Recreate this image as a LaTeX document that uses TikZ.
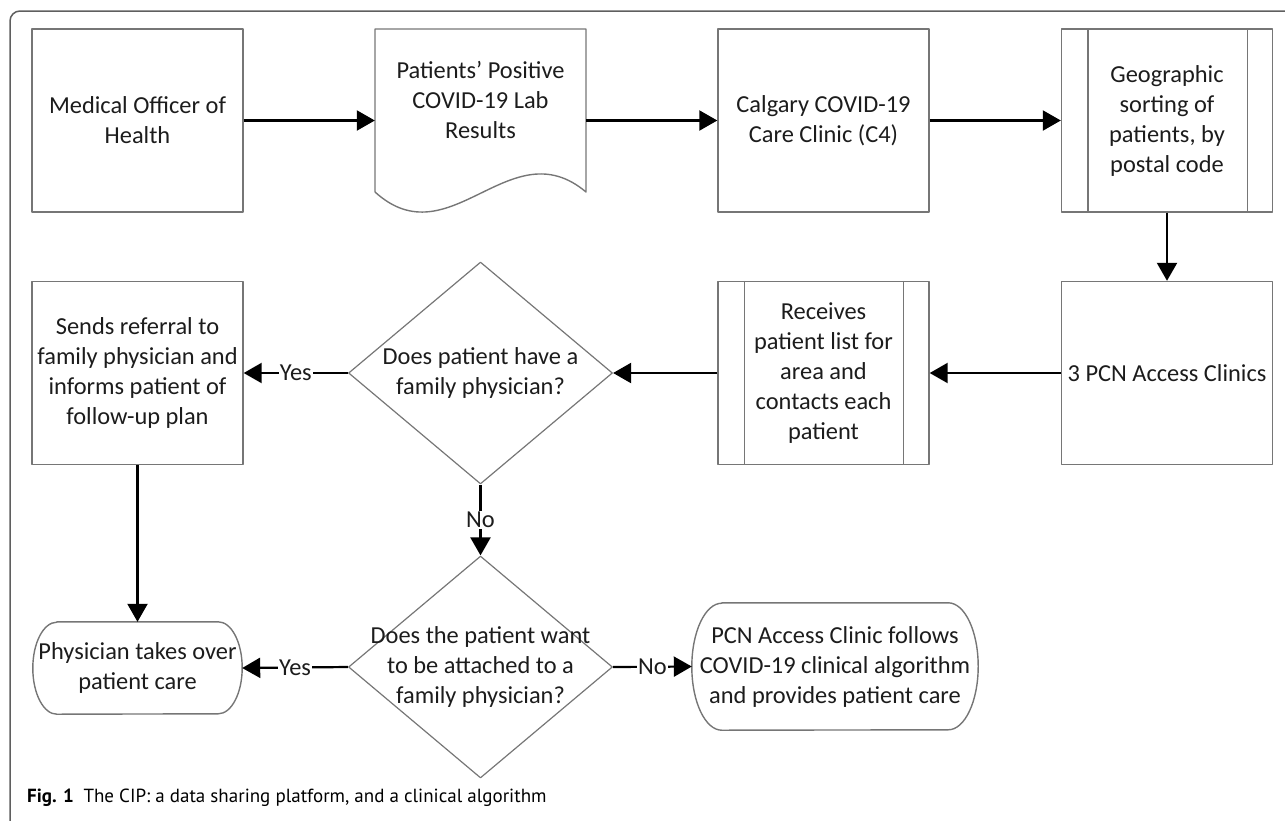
\documentclass[tikz,border=0pt]{standalone}
\usepackage{fontspec}
\setmainfont{Carlito}
\newfontfamily\capfont{PT Sans}
\usetikzlibrary{arrows.meta,shapes.geometric}
\definecolor{boxgray}{RGB}{118,118,118}
\definecolor{framegray}{RGB}{95,95,95}
\definecolor{inkgray}{RGB}{28,28,28}

\newcommand\termshape[3]{%
	\draw[boxline] ([xshift=#2]#1.north west) -- ([xshift=-#2]#1.north east)
		arc[start angle=90,end angle=-90,x radius=#2,y radius=#3]
		-- ([xshift=#2]#1.south west)
		arc[start angle=270,end angle=90,x radius=#2,y radius=#3] -- cycle;}
\newcommand\subproc[1]{%
	\draw[boxline] ([xshift=27pt]#1.north west) -- ([xshift=27pt]#1.south west)
		([xshift=-26pt]#1.north east) -- ([xshift=-26pt]#1.south east);}

\begin{document}
\begin{tikzpicture}[x=1pt,y=-1pt,line join=round,
	font=\fontsize{24.4}{30}\selectfont,text=inkgray,
	boxline/.style={draw=boxgray,line width=1.4pt},
	box/.style={boxline,minimum width=211pt,minimum height=183pt,align=center,inner sep=2pt},
	plain/.style={minimum width=211pt,minimum height=183pt,align=center,inner sep=2pt},
	decision/.style={diamond,boxline,line width=1.2pt,minimum width=264pt,minimum height=222pt,inner sep=0pt},
	flow/.style={line width=2.2pt,draw=black,-{Triangle[length=18pt,width=20pt]}},
	lab/.style={fill=white,inner sep=1pt}]
	\useasboundingbox (0,0) rectangle (1285,820);
	
	\draw[framegray,line width=1.5pt,rounded corners=10pt] (1295,11) -- (10,11) -- (10,830) -- (40,830);
	
	\node[box] (moh) at (137.5,120.5) {Medical Officer of\\Health};
	\node[plain] (doc) at (480.5,120.5) {};
	\draw[boxline] (375,192) -- (375,29) -- (586,29) -- (586,192) .. controls (510,128) and (450,260) .. (375,192);
	\node[align=center] (doctxt) at (480.5,100) {Patients’ Positive\\COVID-19 Lab\\Results};
	\node[box] (c4) at (823.5,120.5) {Calgary COVID-19\\Care Clinic (C4)};
	\node[box] (geo) at (1167,120.5) {Geographic\\sorting of\\patients, by\\postal code};
	\subproc{geo}
	
	\node[box] (pcn) at (1167,373) {3 PCN Access Clinics};
	\node[box] (rcv) at (823.5,373) {Receives\\patient list for\\area and\\contacts each\\patient};
	\subproc{rcv}
	\node[decision] (q1) at (480.5,373) {};
	\node[align=center] (q1txt) at (q1) {Does patient have a\\family physician?};
	\node[box] (ref) at (137.5,373) {Sends referral to\\family physician and\\informs patient of\\follow-up plan};
	
	\node[decision] (q2) at (480.5,667) {};
	\node[align=center] (q2txt) at (q2) {Does the patient want\\to be attached to a\\family physician?};
	\node[plain,minimum width=209pt,minimum height=92pt] (phys) at (137.5,668) {Physician takes over\\patient care};
	\termshape{phys}{24pt}{46pt}
	\node[plain,minimum width=286pt,minimum height=127pt] (pcnf) at (835,666.5) {PCN Access Clinic follows\\COVID-19 clinical algorithm\\and provides patient care};
	\termshape{pcnf}{30pt}{63.5pt}
	
	\draw[flow] (moh.east) -- (doc.west);
	\draw[flow] (doc.east) -- (c4.west);
	\draw[flow] (c4.east) -- (geo.west);
	\draw[flow] (geo.south) -- (pcn.north);
	\draw[flow] (pcn.west) -- (rcv.east);
	\draw[flow] (rcv.west) -- (q1.east);
	\draw[flow] (q1.west) -- node[lab] (yes1) {Yes} (ref.east);
	\draw[flow] (q1.south) -- node[lab] (no1) {No} (q2.north);
	\draw[flow] (ref.south) -- (phys.north);
	\draw[flow] (q2.west) -- node[lab] (yes2) {Yes} (phys.east);
	\draw[flow] (q2.east) -- node[lab] (no2) {No} (pcnf.west);
	
	\node[anchor=west,inner sep=0pt,text=black,font=\capfont\fontsize{19}{22}\selectfont] (cap) at (27,798) {\textbf{Fig. 1}\enspace The CIP: a data sharing platform, and a clinical algorithm};
\end{tikzpicture}
\end{document}
